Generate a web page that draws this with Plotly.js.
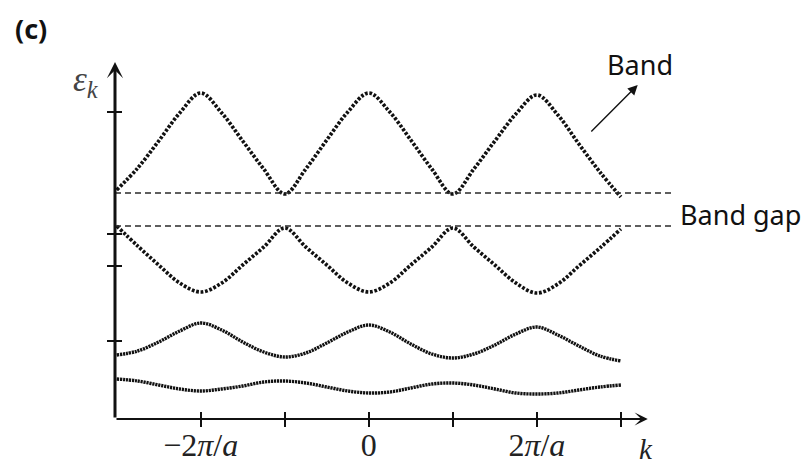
<!DOCTYPE html>
<html>
<head>
<meta charset="utf-8">
<script src="https://cdn.plot.ly/plotly-3.0.1.min.js"></script>
<style>html,body{margin:0;padding:0;background:#fff;}#chart{width:805px;height:464px;}</style>
</head>
<body>
<div id="chart"></div>
<script>
// wave vector k in units of pi/a
const kVals = [-3, -2.75, -2.5, -2.25, -2, -1.75, -1.5, -1.25, -1, -0.75, -0.5, -0.25, 0,
               0.25, 0.5, 0.75, 1, 1.25, 1.5, 1.75, 2, 2.25, 2.5, 2.75, 3];
// energy bands (arbitrary units)
const band1 = [22.9, 25.1, 27.8, 30.6, 32.6, 30.6, 27.8, 25.0, 22.5, 25.0, 27.9, 30.7, 32.6,
               30.7, 27.9, 25.0, 22.5, 25.0, 27.8, 30.5, 32.4, 30.4, 27.5, 24.7, 22.2];
const band2 = [19.3, 17.3, 15.4, 13.6, 12.7, 13.6, 15.4, 17.2, 19.1, 17.2, 15.4, 13.6, 12.7,
               13.6, 15.4, 17.2, 19.1, 17.2, 15.4, 13.6, 12.6, 13.5, 15.3, 17.1, 19.0];
const band3 = [6.4, 6.8, 7.7, 8.8, 9.6, 8.9, 7.7, 6.7, 6.2, 6.6, 7.6, 8.7, 9.4,
               8.7, 7.5, 6.5, 6.1, 6.5, 7.4, 8.5, 9.2, 8.4, 7.3, 6.3, 5.8];
const band4 = [4.0, 3.8, 3.4, 3.0, 2.8, 3.0, 3.3, 3.7, 3.8, 3.6, 3.2, 2.8, 2.6,
               2.7, 3.1, 3.5, 3.6, 3.4, 3.0, 2.6, 2.5, 2.6, 2.9, 3.2, 3.4];
// band gap edges
const gapLevels = [22.6, 19.3];
// axis ticks
const xTickVals = [-2, -1, 0, 1, 2, 3];
const xTickText = ['\u22122<i>\u03c0</i>/<i>a</i>', '', '0', '', '2<i>\u03c0</i>/<i>a</i>', ''];
const yTickVals = [7.8, 15.3, 18.5, 30.7];

const X_RANGE = [-3.02, 3.62];
const Y_RANGE = [0, 35.7];
const X_ARROW_END = 3.32;

function bandTrace(y, dense) {
  return {
    x: kVals, y: y, type: 'scatter', mode: 'lines',
    line: {shape: 'spline', smoothing: 1, color: '#111',
           width: dense ? 3.4 : 3.7, dash: dense ? '2.2px,0.8px' : '2.8px,1.7px'},
    hoverinfo: 'skip', showlegend: false
  };
}

const traces = [
  bandTrace(band1, false),
  bandTrace(band2, false),
  bandTrace(band3, true),
  bandTrace(band4, true),
  {x: kVals, y: band4, xaxis: 'x2', yaxis: 'y2', type: 'scatter', mode: 'lines',
   opacity: 0, hoverinfo: 'skip', showlegend: false}
];

const shapes = gapLevels.map(v => ({
  type: 'line', xref: 'x', yref: 'y', x0: X_RANGE[0], x1: X_RANGE[1], y0: v, y1: v,
  line: {color: '#2a2a2a', width: 1.3, dash: '6px,4px'}
}));

const serif = 'Liberation Serif, DejaVu Serif, serif';
const sans = 'Noto Sans, Open Sans, sans-serif';

const annotations = [
  // axes with arrowheads
  {x: X_ARROW_END, y: 0, ax: X_RANGE[0], ay: 0, xref: 'x', yref: 'y', axref: 'x', ayref: 'y',
   text: '', showarrow: true, arrowhead: 3, arrowwidth: 2, arrowsize: 1.1, arrowcolor: '#111', standoff: 0},
  {x: X_RANGE[0], y: Y_RANGE[1], ax: X_RANGE[0], ay: 0, xref: 'x', yref: 'y', axref: 'x', ayref: 'y',
   text: '', showarrow: true, arrowhead: 3, arrowwidth: 3, arrowsize: 0.9, arrowcolor: '#111', standoff: 0},
  // Band pointer arrow
  {x: 3.20, y: 33.4, ax: 2.63, ay: 28.6, xref: 'x', yref: 'y', axref: 'x', ayref: 'y',
   text: '', showarrow: true, arrowhead: 2, arrowwidth: 1.4, arrowsize: 1.4, arrowcolor: '#111', standoff: 0},
  {x: 0.941, y: 0.992, xref: 'paper', yref: 'paper', text: 'Band', showarrow: false,
   xanchor: 'center', yanchor: 'middle', font: {family: sans, size: 27, color: '#111'}},
  {x: 1.009, y: 0.574, xref: 'paper', yref: 'paper', text: 'Band gap', showarrow: false,
   xanchor: 'left', yanchor: 'middle', font: {family: sans, size: 27, color: '#111'}},
  {x: -0.183, y: 1.095, xref: 'paper', yref: 'paper', text: '<b>(c)</b>', showarrow: false,
   xanchor: 'left', yanchor: 'middle', font: {family: sans, size: 27, color: '#111'}},
  {x: -0.025, y: 0.944, xref: 'paper', yref: 'paper', text: '<i>\u03b5</i><sub><i>k</i></sub>', showarrow: false,
   xanchor: 'right', yanchor: 'middle', font: {family: serif, size: 35, color: '#444'}},
  {x: 0.952, y: -0.085, xref: 'paper', yref: 'paper', text: '<i>k</i>', showarrow: false,
   xanchor: 'center', yanchor: 'middle', font: {family: serif, size: 29, color: '#222'}}
];

const layout = {
  width: 805, height: 464,
  margin: {l: 115, r: 132, t: 62, b: 45, pad: 0},
  paper_bgcolor: '#fff', plot_bgcolor: '#fff',
  showlegend: false,
  xaxis: {range: X_RANGE, showgrid: false, zeroline: false, showline: false,
          tickmode: 'array', tickvals: xTickVals, ticktext: xTickText,
          ticks: 'inside', ticklen: 7, tickwidth: 2, tickcolor: '#111', ticklabelstandoff: 4,
          tickfont: {family: serif, size: 32, color: '#222'}, fixedrange: true},
  yaxis: {range: Y_RANGE, showgrid: false, zeroline: false, showline: false,
          tickmode: 'array', tickvals: yTickVals, showticklabels: false,
          ticks: 'outside', ticklen: 7, tickwidth: 2, tickcolor: '#111', fixedrange: true},
  xaxis2: {range: X_RANGE, overlaying: 'x', anchor: 'y', side: 'bottom', showgrid: false,
           zeroline: false, showline: false, tickmode: 'array', tickvals: xTickVals,
           showticklabels: false, ticks: 'outside', ticklen: 7, tickwidth: 2, tickcolor: '#111'},
  yaxis2: {range: Y_RANGE, overlaying: 'y', anchor: 'x', side: 'left', showgrid: false,
           zeroline: false, showline: false, tickmode: 'array', tickvals: yTickVals,
           showticklabels: false, ticks: 'inside', ticklen: 7, tickwidth: 2, tickcolor: '#111'},
  shapes: shapes,
  annotations: annotations
};

Plotly.newPlot('chart', traces, layout, {displayModeBar: false, staticPlot: true});
</script>
</body>
</html>
